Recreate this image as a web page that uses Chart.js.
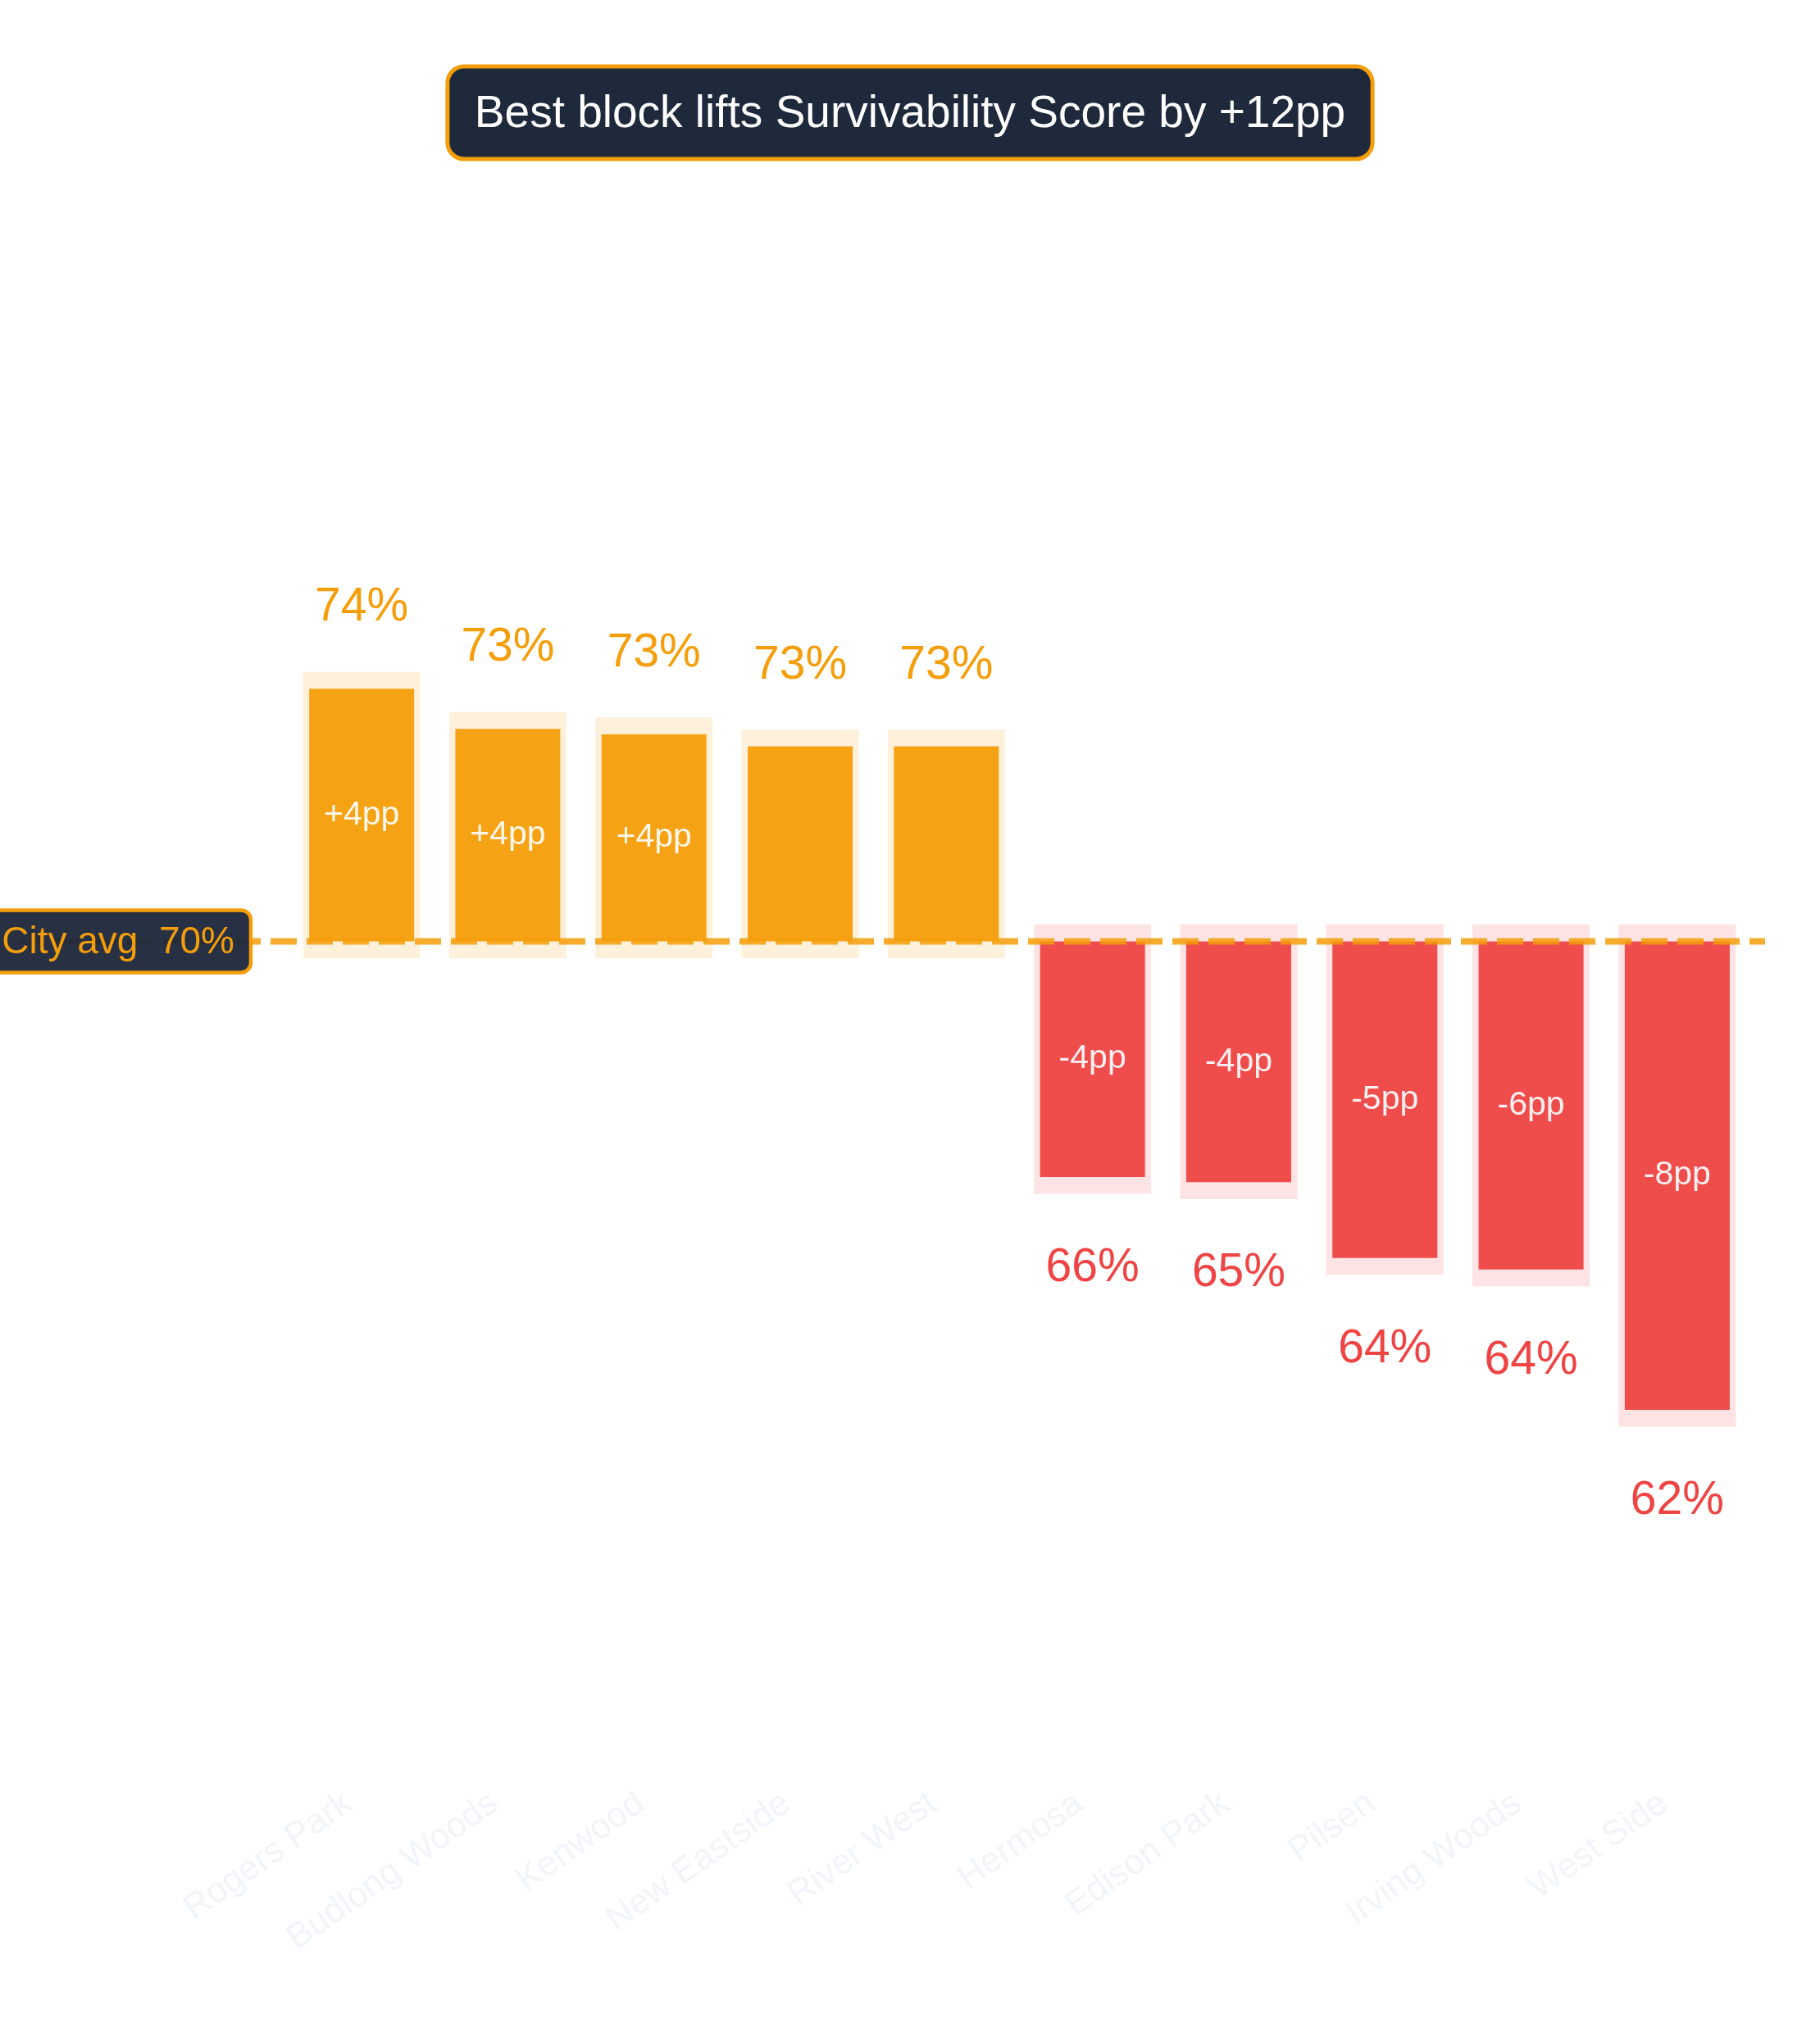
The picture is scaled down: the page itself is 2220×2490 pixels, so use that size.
<!DOCTYPE html>
<html>
<head>
<meta charset="utf-8">
<script src="https://cdn.jsdelivr.net/npm/chart.js@4.4.1/dist/chart.umd.min.js"></script>
<style>
  html, body { margin: 0; padding: 0; background: #ffffff; }
  #wrap { width: 2220px; height: 2490px; position: relative; }
</style>
</head>
<body>
<div id="wrap"><canvas id="c"></canvas></div>
<script>
// ---- data ----
const neighborhoods = ["Rogers Park", "Budlong Woods", "Kenwood", "New Eastside", "River West",
                       "Hermosa", "Edison Park", "Pilsen", "Irving Woods", "West Side"];
const scores = [73.94, 73.25, 73.16, 72.95, 72.95, 65.55, 65.46, 64.16, 63.96, 61.55];
const cityAvg = 69.6;
const titleText = "Best block lifts Survivability Score by +12pp";
const avgLabelText = "City avg  " + Math.round(cityAvg) + "%";
const yRange = [55, 85];

// ---- styling ----
const FONT = '"Liberation Sans", Arial, Helvetica, sans-serif';
const ORANGE = '245,158,11';
const RED = '239,68,68';
const pad = 0.29;

const isUp = scores.map(v => v >= cityAvg);
const mainData = scores.map(v => [cityAvg, v]);
const haloData = scores.map(v => v >= cityAvg ? [cityAvg - pad, v + pad] : [v - pad, cityAvg + pad]);

const overlay = {
  id: 'overlay',
  afterDatasetsDraw(chart) {
    const ctx = chart.ctx;
    const ca = chart.chartArea;
    const y = chart.scales.y.getPixelForValue(cityAvg);
    // dashed average line
    ctx.save();
    ctx.strokeStyle = 'rgba(' + ORANGE + ',0.85)';
    ctx.lineWidth = 8;
    ctx.setLineDash([32, 12]);
    ctx.beginPath();
    ctx.moveTo(ca.left - 330, y);
    ctx.lineTo(ca.right + 18, y);
    ctx.stroke();
    ctx.restore();

    // bar labels
    const meta = chart.getDatasetMeta(0);
    meta.data.forEach((bar, i) => {
      const v = scores[i];
      const d = v - cityAvg;
      const up = isUp[i];
      const top = Math.min(bar.y, bar.base);
      const bot = Math.max(bar.y, bar.base);
      ctx.save();
      ctx.textAlign = 'center';
      ctx.font = '57px ' + FONT;
      ctx.fillStyle = up ? 'rgb(' + ORANGE + ')' : 'rgb(' + RED + ')';
      ctx.textBaseline = 'alphabetic';
      const txt = Math.round(v) + '%';
      if (up) ctx.fillText(txt, bar.x, top - 83);
      else ctx.fillText(txt, bar.x, bot + 127);
      if (Math.abs(d) >= 3.5) {
        ctx.font = '41px ' + FONT;
        ctx.fillStyle = 'rgba(255,255,255,0.92)';
        ctx.textBaseline = 'middle';
        const r = Math.round(d);
        ctx.fillText((r > 0 ? '+' : '') + r + 'pp', bar.x, (top + bot) / 2);
      }
      ctx.restore();
    });

    // city avg label box
    ctx.save();
    ctx.font = '46px ' + FONT;
    const tw = ctx.measureText(avgLabelText).width;
    const right = 306, bx = right - tw - 40, bh = 76;
    ctx.beginPath();
    ctx.roundRect(bx, y - bh / 2, tw + 40, bh, 12);
    ctx.fillStyle = 'rgba(30,41,59,0.96)';
    ctx.fill();
    ctx.lineWidth = 4.5;
    ctx.strokeStyle = 'rgb(' + ORANGE + ')';
    ctx.stroke();
    ctx.fillStyle = 'rgb(' + ORANGE + ')';
    ctx.textAlign = 'right';
    ctx.textBaseline = 'middle';
    ctx.fillText(avgLabelText, right - 20, y + 2);
    ctx.restore();
  },
  afterDraw(chart) {
    const ctx = chart.ctx;
    ctx.save();
    ctx.font = '55px ' + FONT;
    const tw = ctx.measureText(titleText).width;
    const cx = chart.width / 2, w = tw + 66, h = 113, ty = 81;
    ctx.beginPath();
    ctx.roundRect(cx - w / 2, ty, w, h, 20);
    ctx.fillStyle = '#1e293b';
    ctx.fill();
    ctx.lineWidth = 5;
    ctx.strokeStyle = 'rgb(' + ORANGE + ')';
    ctx.stroke();
    ctx.fillStyle = '#ffffff';
    ctx.textAlign = 'center';
    ctx.textBaseline = 'middle';
    ctx.fillText(titleText, cx, ty + h / 2 + 2);
    ctx.restore();
  }
};

new Chart(document.getElementById('c'), {
  type: 'bar',
  data: {
    labels: neighborhoods,
    datasets: [
      {
        data: mainData,
        backgroundColor: isUp.map(u => 'rgba(' + (u ? ORANGE : RED) + ',0.95)'),
        borderWidth: 0,
        barPercentage: 0.718,
        categoryPercentage: 1,
        grouped: false
      },
      {
        data: haloData,
        backgroundColor: isUp.map(u => 'rgba(' + (u ? ORANGE : RED) + ',0.15)'),
        borderWidth: 0,
        barPercentage: 0.802,
        categoryPercentage: 1,
        grouped: false
      }
    ]
  },
  options: {
    responsive: true,
    maintainAspectRatio: false,
    devicePixelRatio: 1,
    animation: false,
    layout: { padding: { left: 352, right: 85, top: 55, bottom: 0 } },
    plugins: { legend: { display: false }, tooltip: { enabled: false }, title: { display: false } },
    scales: {
      x: {
        grid: { display: false, drawTicks: false },
        border: { display: false },
        ticks: {
          color: '#f1f5f9',
          font: { size: 43, family: FONT },
          minRotation: 35,
          maxRotation: 35,
          padding: -10,
          labelOffset: -16,
          autoSkip: false
        },
        afterFit(scale) { scale.height = 305; }
      },
      y: {
        display: false,
        min: yRange[0],
        max: yRange[1]
      }
    }
  },
  plugins: [overlay]
});
</script>
</body>
</html>
